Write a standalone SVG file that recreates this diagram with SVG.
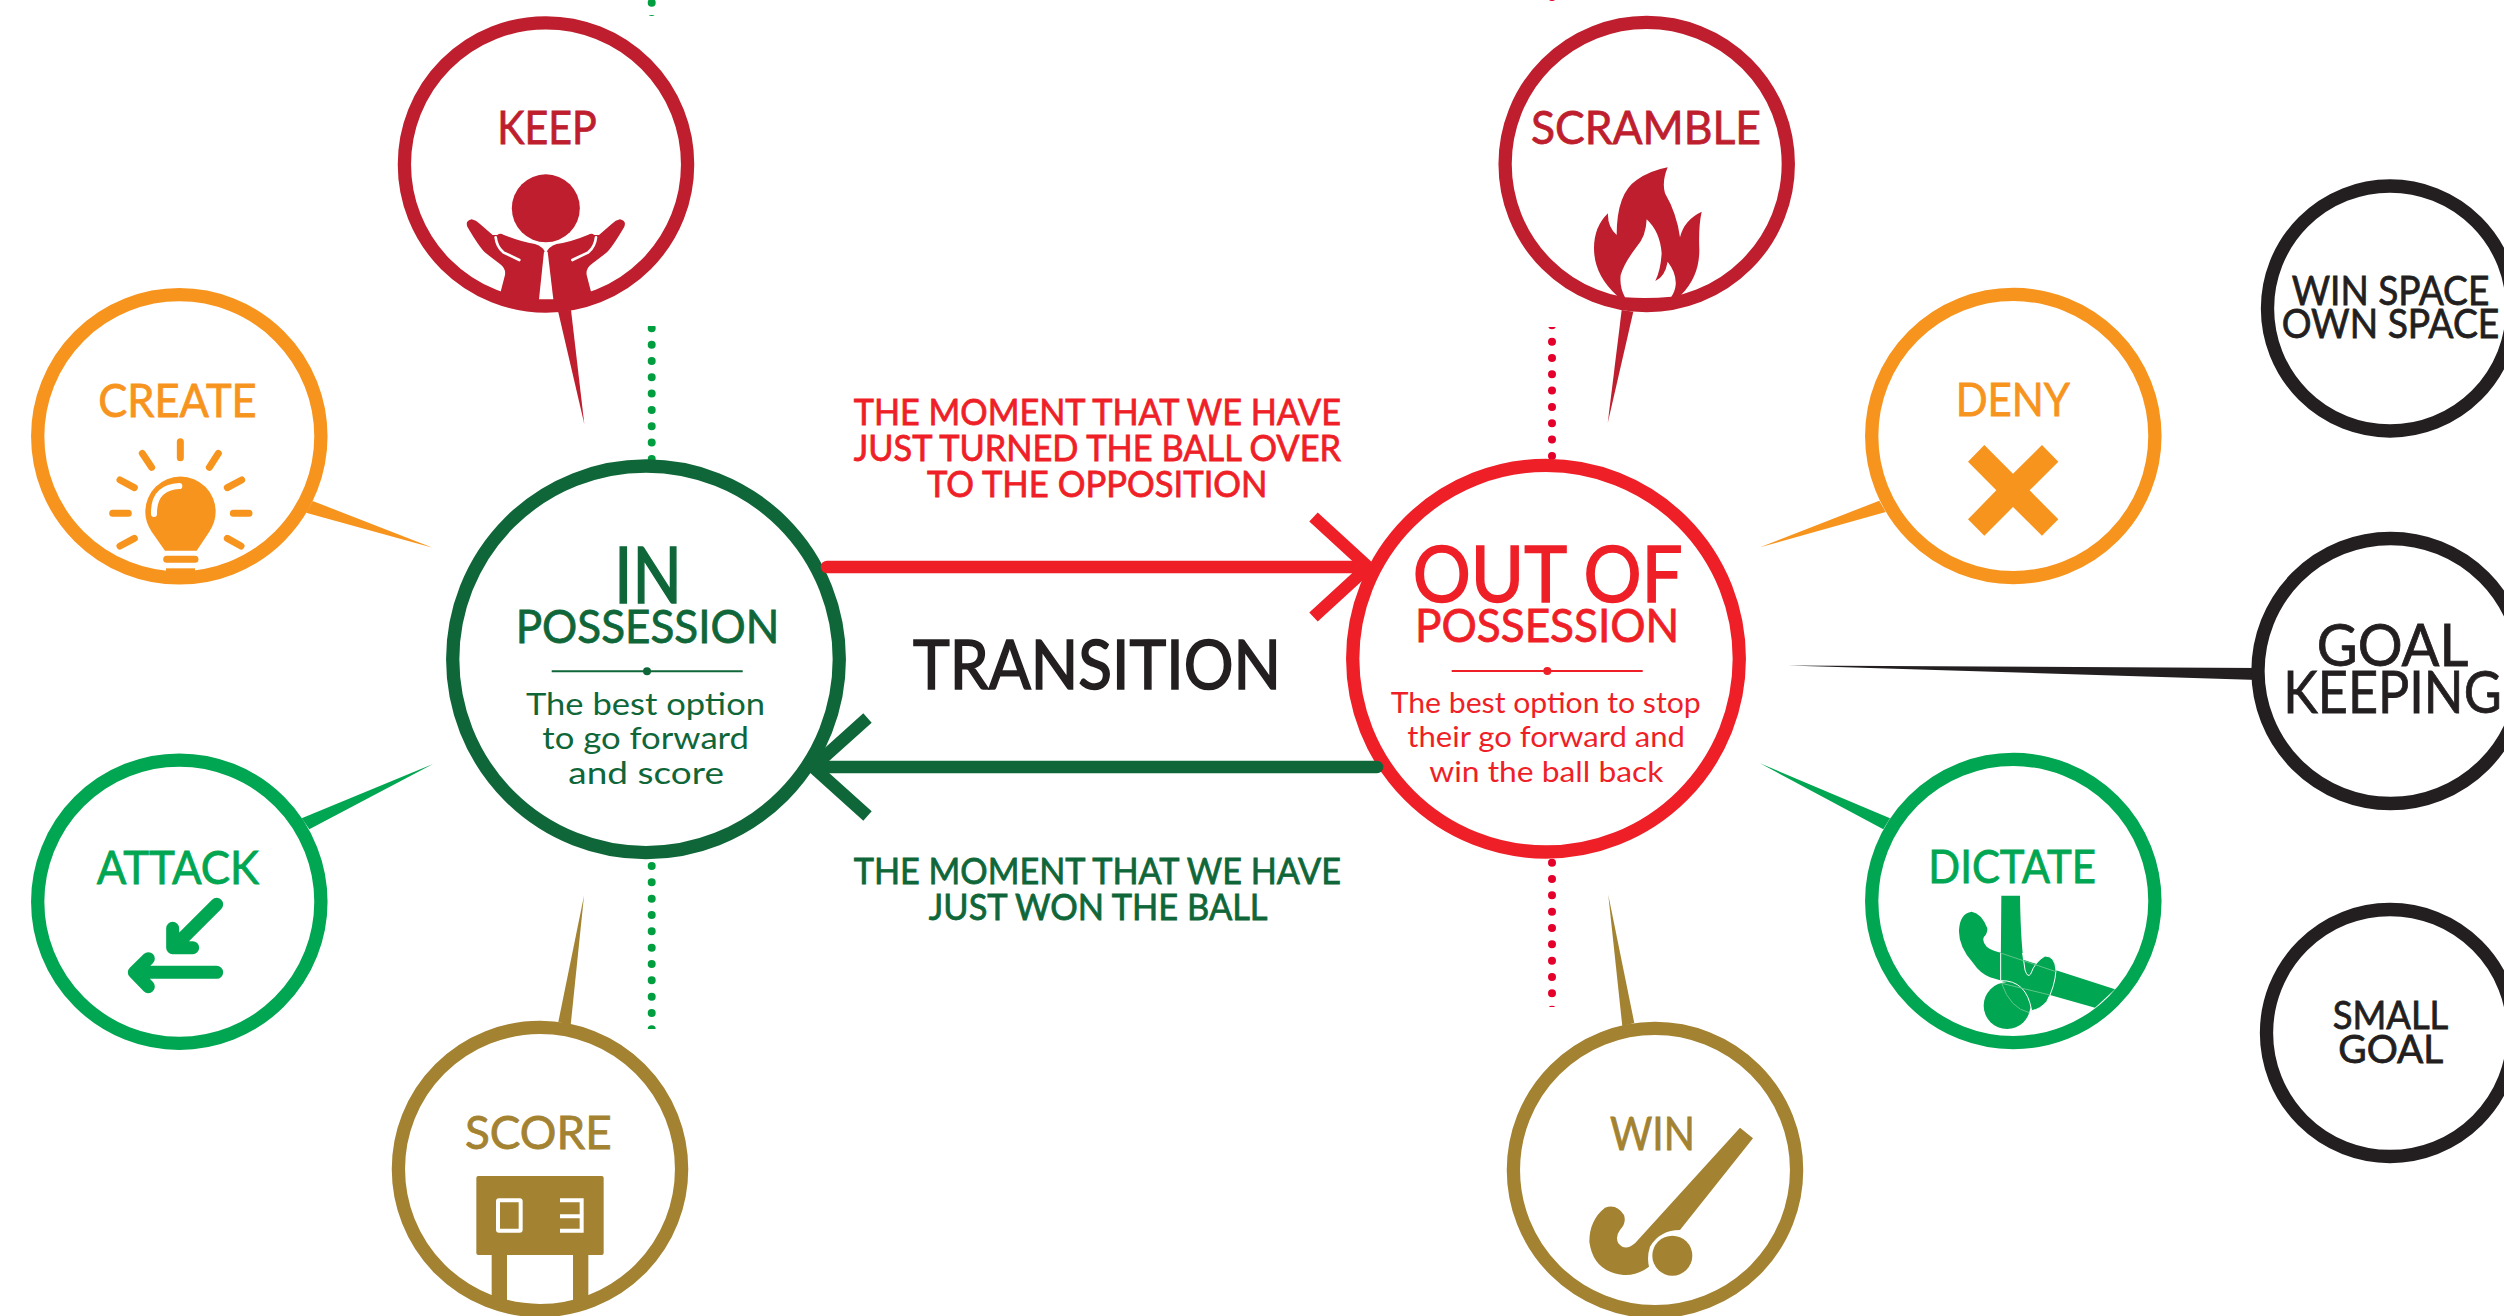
<svg xmlns="http://www.w3.org/2000/svg" width="2504" height="1316" viewBox="0 0 2504 1316">
<style>
text{font-family:Lato,"Liberation Sans",sans-serif;stroke-width:.8;paint-order:stroke}
.thin text{stroke-width:0}
.heavy{stroke-width:1.6}
.ring{fill:#fff;stroke-width:13.3}
.dred{fill:#BE1E2D;stroke:#BE1E2D}.org{fill:#F7941E;stroke:#F7941E}.grn{fill:#00A651;stroke:#00A651}.gold{fill:#A38231;stroke:#A38231}
.dgrn{fill:#0F6739;stroke:#0F6739}.red{fill:#EF1F28;stroke:#EF1F28}.blk{fill:#231F20;stroke:#231F20}
.ring.dred,.ring.org,.ring.grn,.ring.gold,.ring.dgrn,.ring.red,.ring.blk{fill:#fff}
.ico{stroke:none}
.t46{font-size:46px}.t36{font-size:36px}
.dots{fill:none;stroke-width:8;stroke-linecap:round;stroke-dasharray:0 16.33}
.arrow{fill:none;stroke-width:12.5}
.wl{fill:none;stroke:#fff;stroke-linecap:round}
</style>
<defs>
<clipPath id="cg"><rect x="640" y="0" width="24" height="16"/><rect x="640" y="326" width="24" height="703"/></clipPath>
<clipPath id="cr"><rect x="1540" y="0" width="24" height="1"/><rect x="1540" y="327" width="24" height="680"/></clipPath>
</defs>
<rect width="2504" height="1316" fill="#fff"/>

<g id="dotted-lines">
<g clip-path="url(#cg)" stroke="#009E3F" class="dots">
<line x1="651.7" y1="2.7" x2="651.7" y2="19.1"/>
<line x1="651.7" y1="328.3" x2="651.7" y2="459.1"/>
<line x1="651.7" y1="866" x2="651.7" y2="1029.8"/>
</g>
<g clip-path="url(#cr)" stroke="#E4002B" class="dots">
<line x1="1552" y1="-3" x2="1552" y2="-2.9"/>
<line x1="1552" y1="325.3" x2="1552" y2="456.1"/>
<line x1="1552" y1="862.7" x2="1552" y2="1010"/>
</g>
</g>

<g id="connectors">
<polygon class="dred ico" points="558,311 571,310 584.3,424"/>
<polygon class="org ico" points="312.7,501 306,512.7 432.7,547.7"/>
<polygon class="grn ico" points="301.7,818.3 309.3,829.3 433,764"/>
<polygon class="gold ico" points="558.3,1022 570.7,1025 584,895.7"/>
<polygon class="dred ico" points="1621.7,310 1633.3,311.7 1607.7,423.3"/>
<polygon class="org ico" points="1879.3,500.7 1885.7,512 1760,547.3"/>
<polygon class="grn ico" points="1890,818.3 1883.3,829.3 1760,763.3"/>
<polygon class="gold ico" points="1622.3,1026 1634.3,1023 1608.3,895"/>
<polygon class="blk ico" points="1788,665.5 2258,668 2258,680"/>
</g>

<g id="node-keep">
<circle class="ring dred" cx="546" cy="164.4" r="141.6"/>
<text class="dred t46" x="497.3" y="144" textLength="99.4" lengthAdjust="spacingAndGlyphs">KEEP</text>
<g transform="translate(380,0) scale(.33333)">
<circle class="dred ico" cx="497.5" cy="625" r="102"/>
<g id="hand-l"><path class="dred ico" d="M362,875 L375,825 Q378,805 360,792 L318,760 Q300,745 262,680 Q255,662 275,658 Q288,660 300,672 L338,705 L352,705 Q360,698 370,704 Q420,725 465,732 Q490,740 497,760 L497,905 L362,900 Z"/>
<path class="wl" stroke-width="8" d="M347,712 Q350,740 370,757 L418,780"/></g>
<use href="#hand-l" transform="matrix(-1 0 0 1 995 0)"/>
<polygon fill="#fff" points="492,755 503,755 520,898 477,898"/>
</g>
</g>

<g id="node-create">
<circle class="ring org" cx="179.3" cy="436.3" r="141.6"/>
<text class="org t46" x="98.3" y="416.7" textLength="158.4" lengthAdjust="spacingAndGlyphs">CREATE</text>
<g transform="translate(0,270) scale(.33333)">
<g fill="none" stroke="#F7941E" stroke-width="21" stroke-linecap="round">
<path d="M541,515V563M427,550L455,592M655,550L628,592M360,630L403,653M725,630L682,653M338,730H385M700,730H747M360,828L403,805M723,828L682,805M500,868H585"/>
</g>
<path class="org ico" d="M495,842 L455,785 Q435,755 436,725 A105,105 0 1 1 647,725 Q647,755 628,785 L590,842 Z"/>
<path class="wl" stroke-width="18" d="M462,732 Q460,652 538,648"/>
<rect class="org ico" x="498" y="895" width="87" height="15"/>
</g>
</g>

<g id="node-attack">
<circle class="ring grn" cx="179.3" cy="901.7" r="141.6"/>
<text class="grn t46" x="96.7" y="884" textLength="162.3" lengthAdjust="spacingAndGlyphs">ATTACK</text>
<g transform="translate(0,720) scale(.33333)" fill="none" stroke="#00A651" stroke-width="39" stroke-linecap="round" stroke-linejoin="round">
<path d="M650,553L520,683M518,625V683H578"/>
<path d="M650,757H405M445,716L403,757L445,800"/>
</g>
</g>

<g id="node-score">
<circle class="ring gold" cx="540" cy="1169" r="141.6"/>
<text class="gold t46" x="465" y="1149" textLength="146.7" lengthAdjust="spacingAndGlyphs">SCORE</text>
<g transform="translate(380,880) scale(.33333)">
<rect class="gold ico" x="289" y="888" width="382" height="237" rx="6"/>
<rect class="gold ico" x="335" y="1125" width="46" height="155"/>
<rect class="gold ico" x="579" y="1125" width="46" height="155"/>
<rect x="354" y="961" width="68" height="91" rx="3" fill="none" stroke="#fff" stroke-width="12"/>
<path d="M540,961H605V1052H540M540,1009H600" fill="none" stroke="#fff" stroke-width="12"/>
</g>
</g>

<g id="node-scramble">
<circle class="ring dred" cx="1646.7" cy="164" r="141.6"/>
<text class="dred t46" x="1531" y="144" textLength="230" lengthAdjust="spacingAndGlyphs">SCRAMBLE</text>
<g transform="translate(1480,0) scale(.33333)">
<path class="dred ico" d="M412,888 Q342,825 342,745 Q342,680 384,640 Q382,680 410,705 Q410,580 470,540 Q510,512 563,502 Q545,545 555,580 Q590,640 600,712 Q612,660 665,635 Q655,680 658,750 Q658,830 603,885 L575,905 L430,905 Z"/>
<path fill="#fff" d="M435,892 Q418,860 422,825 Q432,790 470,740 Q498,710 500,658 Q540,695 545,760 Q542,810 526,843 Q555,830 563,785 Q590,820 587,855 Q585,875 574,890 Q505,897 435,892 Z"/>
</g>
</g>

<g id="node-deny">
<circle class="ring org" cx="2013.3" cy="436" r="141.6"/>
<text class="org t46" x="1955.7" y="416" textLength="114.3" lengthAdjust="spacingAndGlyphs">DENY</text>
<polygon class="org ico" transform="translate(1760,270) scale(.33333)" points="673,525 759,611 846,525 895,575 809,661 895,748 846,797 759,711 673,797 624,748 709,661 624,575"/>
</g>

<g id="node-dictate">
<circle class="ring grn" cx="2013.3" cy="901" r="141.6"/>
<text class="grn t46" x="1928.3" y="883.3" textLength="167.7" lengthAdjust="spacingAndGlyphs">DICTATE</text>
<g transform="translate(1760,740) scale(.33333)">
<path class="grn ico" d="M635,515 Q665,520 682,565 Q683,580 672,590 Q665,605 680,620 Q695,632 730,640 L1065,748 L1005,803 L870,765 L690,712 Q660,700 640,670 Q595,620 597,570 Q600,520 635,515Z"/>
<path class="grn ico" d="M724,467 L780,467 Q782,620 795,690 Q803,715 812,702 Q825,665 855,648 Q885,648 888,690 Q885,740 860,785 Q840,808 815,812 Q800,770 760,735 L722,722 Z"/>
<circle class="grn ico" cx="741" cy="797" r="70"/>
<path class="wl" stroke-width="3" d="M722,640V722Q800,720 815,812Q840,808 860,785Q885,740 888,690Q885,648 855,648Q825,665 812,702Q803,715 795,690L788,640"/>
<path fill="none" stroke="#5FC48B" stroke-width="3" d="M725,640L888,695M725,730L870,765M725,730Q750,805 808,818"/>
</g>
</g>

<g id="node-win">
<circle class="ring gold" cx="1655" cy="1170" r="141.6"/>
<text class="gold t46" x="1610" y="1150" textLength="85" lengthAdjust="spacingAndGlyphs">WIN</text>
<g transform="translate(1480,880) scale(.33333)">
<path class="gold ico" d="M780,743 L819,775 L600,1050 Q540,1050 510,1100 Q500,1130 507,1160 Q470,1188 430,1185 Q340,1175 328,1085 Q328,1020 375,983 Q410,970 432,1005 Q440,1030 420,1050 Q405,1070 415,1090 Q435,1115 465,1090 Z"/>
<circle class="gold ico" cx="577" cy="1127" r="60"/>
</g>
</g>

<g id="node-in-possession">
<circle class="ring dgrn" cx="646" cy="659.3" r="193.3"/>
<text class="dgrn heavy" font-size="78" x="614.3" y="602.7" textLength="67.4" lengthAdjust="spacingAndGlyphs">IN</text>
<text class="dgrn t46" x="515.7" y="642.7" textLength="263.6" lengthAdjust="spacingAndGlyphs">POSSESSION</text>
<line class="dgrn" stroke-width="2" x1="551.7" y1="671.3" x2="742.7" y2="671.3"/>
<circle class="dgrn ico" cx="647" cy="671.3" r="4"/>
<g class="dgrn thin" font-size="31">
<text x="526" y="715.3" textLength="239" lengthAdjust="spacingAndGlyphs">The best option</text>
<text x="542.3" y="749.3" textLength="206.7" lengthAdjust="spacingAndGlyphs">to go forward</text>
<text x="568.3" y="784.3" textLength="155.7" lengthAdjust="spacingAndGlyphs">and score</text>
</g>
</g>

<g id="node-out-of-possession">
<circle class="ring red" cx="1546" cy="658.7" r="193.3"/>
<text class="red heavy" font-size="78" x="1412.7" y="602.3" textLength="270" lengthAdjust="spacingAndGlyphs">OUT OF</text>
<text class="red t46" x="1415" y="641.7" textLength="264.3" lengthAdjust="spacingAndGlyphs">POSSESSION</text>
<line class="red" stroke-width="2" x1="1451.7" y1="671" x2="1642.7" y2="671"/>
<circle class="red ico" cx="1547.3" cy="671" r="4"/>
<g class="red thin" font-size="28">
<text x="1390.7" y="713.3" textLength="310" lengthAdjust="spacingAndGlyphs">The best option to stop</text>
<text x="1407.3" y="746.7" textLength="277.7" lengthAdjust="spacingAndGlyphs">their go forward and</text>
<text x="1429.3" y="781.7" textLength="234" lengthAdjust="spacingAndGlyphs">win the ball back</text>
</g>
</g>

<g id="transition-arrows">
<path class="arrow red" style="fill:none" stroke-linecap="round" d="M827,567H1365"/>
<path class="arrow red" style="fill:none" d="M1313.5,517L1368,567L1313.5,617"/>
<path class="arrow dgrn" style="fill:none" stroke-linecap="round" d="M1377,767H815"/>
<path class="arrow dgrn" style="fill:none" d="M867.5,718L813,767L867.5,816"/>
</g>

<g id="label-to-out">
<g class="red t36">
<text x="853.8" y="424.8" textLength="487.2" lengthAdjust="spacingAndGlyphs">THE MOMENT THAT WE HAVE</text>
<text x="853.8" y="460.7" textLength="487.2" lengthAdjust="spacingAndGlyphs">JUST TURNED THE BALL OVER</text>
<text x="927" y="496.7" textLength="340.5" lengthAdjust="spacingAndGlyphs">TO THE OPPOSITION</text>
</g>
</g>
<g id="label-transition">
<text class="blk heavy" font-size="67" x="913" y="688.5" textLength="368" lengthAdjust="spacingAndGlyphs">TRANSITION</text>
</g>
<g id="label-to-in">
<g class="dgrn t36">
<text x="853.8" y="884" textLength="487.2" lengthAdjust="spacingAndGlyphs">THE MOMENT THAT WE HAVE</text>
<text x="928.8" y="920" textLength="338.7" lengthAdjust="spacingAndGlyphs">JUST WON THE BALL</text>
</g>
</g>

<g id="node-win-space">
<circle class="ring blk" cx="2390" cy="308.5" r="122.5"/>
<g class="blk" font-size="41">
<text x="2291.7" y="305" textLength="197.6" lengthAdjust="spacingAndGlyphs">WIN SPACE</text>
<text x="2281.7" y="338" textLength="217.6" lengthAdjust="spacingAndGlyphs">OWN SPACE</text>
</g>
</g>
<g id="node-goal-keeping">
<circle class="ring blk" cx="2390.5" cy="671" r="132.5"/>
<g class="blk" font-size="58">
<text x="2316.7" y="666" textLength="151.6" lengthAdjust="spacingAndGlyphs">GOAL</text>
<text x="2283.3" y="713" textLength="218.4" lengthAdjust="spacingAndGlyphs">KEEPING</text>
</g>
</g>
<g id="node-small-goal">
<circle class="ring blk" cx="2390" cy="1033" r="123.5"/>
<g class="blk" font-size="38">
<text x="2332.7" y="1029" textLength="115.6" lengthAdjust="spacingAndGlyphs">SMALL</text>
<text x="2338.3" y="1063" textLength="105" lengthAdjust="spacingAndGlyphs">GOAL</text>
</g>
</g>
</svg>
